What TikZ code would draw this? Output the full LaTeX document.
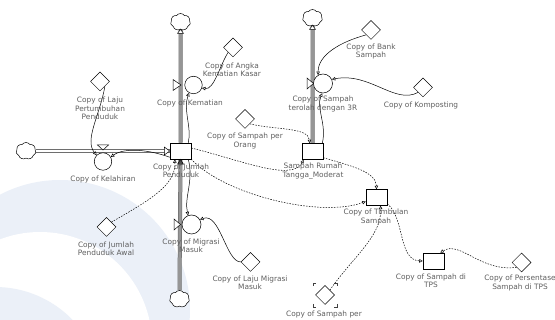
\documentclass[tikz,border=0pt]{standalone}
\usepackage{fontspec}
\setmainfont{DejaVu Sans}
\usetikzlibrary{shapes.geometric,shapes.symbols,arrows.meta,calc}
\pgfdeclarelayer{wmlayer}
\pgfdeclarelayer{pipelayer}
\pgfsetlayers{wmlayer,pipelayer,main}
\definecolor{wm}{RGB}{235,240,248}
\definecolor{lbl}{RGB}{95,95,95}
\definecolor{pipegray}{RGB}{150,150,150}
\begin{document}
\begin{tikzpicture}[x=1pt,y=-1pt,
  stockbox/.style={draw, fill=white, minimum width=21pt, minimum height=16pt, inner sep=0pt, line width=0.5pt},
  auxdia/.style={diamond, draw, fill=white, minimum width=19pt, minimum height=19pt, inner sep=0pt, line width=0.5pt},
  valvec/.style={circle, draw, fill=white, minimum size=17.5pt, inner sep=0pt, line width=0.5pt},
  cloudn/.style={cloud, draw, fill=white, cloud puffs=7, cloud puff arc=110, cloud ignores aspect, minimum width=20pt, minimum height=17pt, inner sep=0pt, line width=0.5pt},
  lab/.style={text=lbl, align=center, inner sep=0pt, font=\fontsize{7.4}{8.3}\selectfont},
  conn/.style={line width=0.5pt, -{Triangle[open,length=3.5pt,width=3.5pt]}},
  info/.style={line width=0.5pt, dash pattern=on 1.5pt off 1.3pt, -{Triangle[open,length=3.5pt,width=3.5pt]}},
  pipe/.style={draw=black!60, line width=0.5pt, double=pipegray, double distance=3pt},
  hpipe/.style={draw=black, line width=0.5pt, double=white, double distance=2.2pt},
  vtri/.style={draw, fill=white, line width=0.5pt, line join=miter}
]
\useasboundingbox (0,0) rectangle (555,320);

% watermark
\begin{pgfonlayer}{wmlayer}
  \clip (0,0) rectangle (555,320);
  \fill[wm] (60,310) circle (130);
  \fill[white] (40,344) circle (112);
  \fill[wm] (-5,395) circle (108);
\end{pgfonlayer}

% clouds
\node[cloudn] (c1) at (180.5,22) {};
\node[cloudn] (c2) at (26,151) {};
\node[cloudn] (c3) at (179.5,299) {};
\node[cloudn] (c4) at (312.5,18) {};

% stocks
\node[stockbox] (jp) at (180.5,151) {};
\node[stockbox] (srt) at (312.5,151.5) {};
\node[stockbox] (ts) at (376.5,197.5) {};
\node[stockbox] (tps) at (433.5,261) {};

% valves
\node[valvec] (kem) at (193.5,85) {};
\node[valvec] (kel) at (103,161.5) {};
\node[valvec, minimum size=19pt] (mig) at (191.5,224.5) {};
\node[valvec, minimum size=19pt] (s3r) at (323,83.5) {};

% auxiliaries
\node[auxdia] (aksk) at (233,47.5) {};
\node[auxdia] (lpp) at (100,81.5) {};
\node[auxdia] (jpa) at (106.5,227) {};
\node[auxdia] (spo) at (245,119) {};
\node[auxdia] (bank) at (371,30) {};
\node[auxdia] (komp) at (423,87.5) {};
\node[auxdia] (lmm) at (250.5,262) {};
\node[auxdia] (spb) at (325,295) {};
\node[auxdia] (pers) at (521.5,262.5) {};

% selection brackets around spb
\draw[line width=0.6pt, black!75]
  ($(spb.center)+(-12,-9)$) -- ++(0,-3) -- ++(3,0)
  ($(spb.center)+(12,-9)$) -- ++(0,-3) -- ++(-3,0)
  ($(spb.center)+(-12,9)$) -- ++(0,3) -- ++(3,0)
  ($(spb.center)+(12,9)$) -- ++(0,3) -- ++(-3,0);

% pipes
\begin{pgfonlayer}{pipelayer}
  \draw[pipe] (jp.north) -- (c1.south);
  \draw[pipe] (c3.north) -- (jp.south);
  \draw[hpipe] (c2.east) -- (jp.west);
  \draw[pipe] (srt.north) -- (c4.south);
\end{pgfonlayer}
% pipe arrowheads
\draw[vtri] (c1.south) -- ++(-3,4) -- ++(6,0) -- cycle;
\draw[vtri] (c4.south) -- ++(-3,4) -- ++(6,0) -- cycle;
\draw[vtri] (jp.west) -- ++(-5.5,-4) -- ++(0,8) -- cycle;
\draw[line width=0.5pt, fill=black!70] (jp.south) -- ++(-3,5) -- ++(6,0) -- cycle;

% valve triangles
\draw[vtri] (181,85) -- (173,79.5) -- (173,90.5) -- cycle;
\draw[vtri] (180.5,224.5) -- (174,219) -- (174,230) -- cycle;
\draw[vtri] (313.5,83.5) -- (307,78) -- (307,89) -- cycle;
\draw[vtri] (103,150) -- (97.5,145) -- (108.5,145) -- cycle;

% solid connectors
\draw[conn] (aksk.south west) .. controls (220,65) and (214,90) .. (kem.-20);
\draw[conn] ($(jp.north east)+(-3,0)$) .. controls (192,128) and (183,110) .. (kem.-120);
\draw[conn] (lpp.south east) .. controls (100,115) and (84,140) .. (kel.135);
\draw[conn] ($(jp.south west)+(0,-2)$) .. controls (150,150) and (125,147) .. (kel.30);
\draw[conn] ($(jp.south east)+(-3,0)$) .. controls (194,180) and (184,198) .. (mig.110);
\draw[conn] (lmm.west) .. controls (226,262) and (220,212) .. (mig.30);
\draw[conn] (bank.south west) .. controls (340,42) and (318,55) .. (s3r.120);
\draw[conn] (komp.south west) .. controls (395,105) and (370,72) .. (s3r.25);
\draw[conn] ($(srt.north east)+(-1,0)$) .. controls (327,125) and (316,108) .. (s3r.-95);

% information links (dashed)
\draw[info] (spo.south east) .. controls (275,130) and (308,127) .. ($(srt.north west)+(8,0)$);
\draw[info] ($(jp.east)+(0,-3)$) .. controls (240,160) and (292,182) .. ($(srt.south west)+(2,0)$);
\draw[info] ($(srt.south east)+(0,-2)$) .. controls (352,166) and (376,172) .. (ts.north);
\draw[info] (jp.south east) .. controls (225,195) and (320,218) .. ($(ts.west)+(0,4)$);
\draw[info] (spb.north east) .. controls (352,258) and (382,236) .. ($(ts.south)+(4,0)$);
\draw[info] ($(ts.south east)+(0,-2)$) .. controls (405,218) and (398,260) .. (tps.west);
\draw[info] (pers.south west) .. controls (480,272) and (460,240) .. ($(tps.north east)+(-4,0)$);
\draw[info] (jpa.north east) .. controls (150,200) and (176,185) .. ($(jp.south west)+(5,0)$);

% labels
\node[lab] (l1) at (232,69.5) {Copy of Angka\\Kematian Kasar};
\node[lab] (l2) at (100,108.5) {Copy of Laju\\Pertumbuhan\\Penduduk};
\node[lab] (l3) at (190,103) {Copy of Kematian};
\node[lab] (l4) at (103,179.5) {Copy of Kelahiran};
\node[lab] (l5) at (181,170.5) {Copy of Jumlah\\Penduduk};
\node[lab] (l6) at (106,248.5) {Copy of Jumlah\\Penduduk Awal};
\node[lab] (l7) at (191,246) {Copy of Migrasi\\Masuk};
\node[lab] (l8) at (250,283) {Copy of Laju Migrasi\\Masuk};
\node[lab] (l9) at (245,141) {Copy of Sampah per\\Orang};
\node[lab] (l10) at (371,51.5) {Copy of Bank\\Sampah};
\node[lab] (l11) at (421,105) {Copy of Komposting};
\node[lab] (l12) at (323,104) {Copy of Sampah\\terolah dengan 3R};
\node[lab] (l13) at (313,171) {Sampah Rumah\\Tangga\_Moderat};
\node[lab] (l14) at (376,217) {Copy of Timbulan\\Sampah};
\node[lab] (l15) at (431,281) {Copy of Sampah di\\TPS};
\node[lab] (l16) at (520,283) {Copy of Persentase\\Sampah di TPS};
\node[lab] (l17) at (324,314) {Copy of Sampah per};
\end{tikzpicture}
\end{document}
